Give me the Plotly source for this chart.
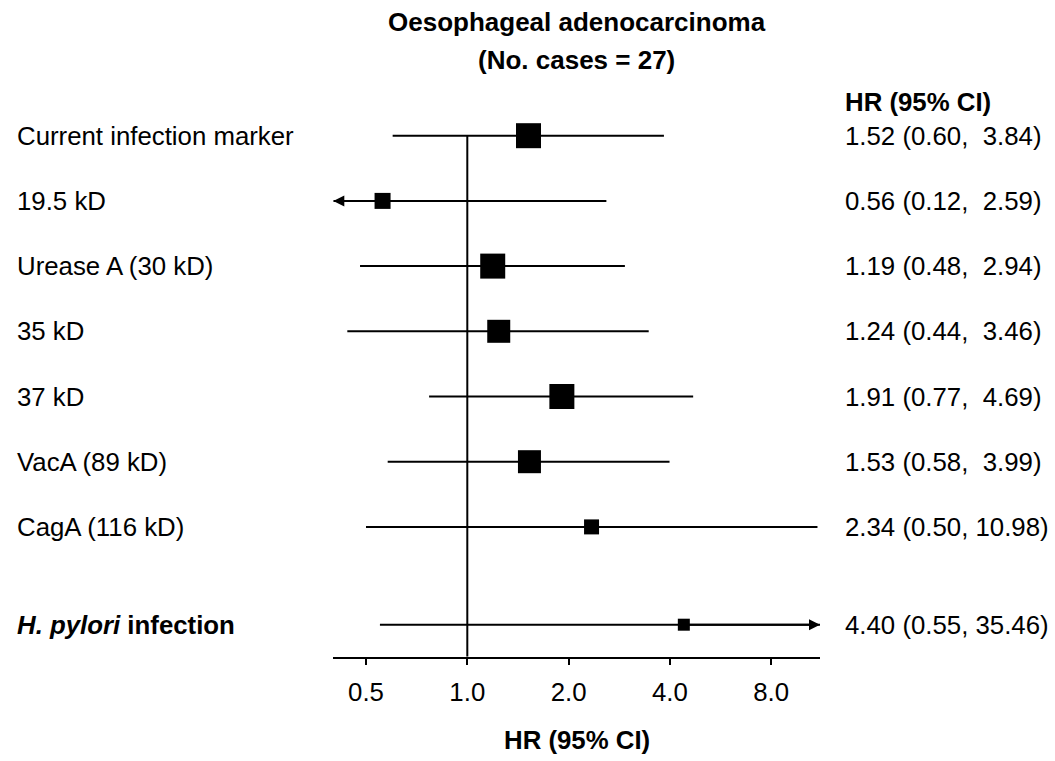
import math
import plotly.graph_objects as go

# ---- data ----
labels = ["Current infection marker", "19.5 kD", "Urease A (30 kD)", "35 kD",
          "37 kD", "VacA (89 kD)", "CagA (116 kD)", "<b><i>H. pylori</i> infection</b>"]
hr = [1.52, 0.56, 1.19, 1.24, 1.91, 1.53, 2.34, 4.40]
lo = [0.60, 0.12, 0.48, 0.44, 0.77, 0.58, 0.50, 0.55]
hi = [3.84, 2.59, 2.94, 3.46, 4.69, 3.99, 10.98, 35.46]
weights = [25, 16, 25, 23, 25, 23, 15, 12]   # box side (px), study weight
tick_vals = [0.5, 1, 2, 4, 8]
tick_text = ["0.5", "1.0", "2.0", "4.0", "8.0"]
title_lines = ["Oesophageal adenocarcinoma", "(No. cases = 27)"]
col_header = "HR (95% CI)"
axis_title = "HR (95% CI)"

# row positions: markers in consecutive rows, overall row after a gap
rows = list(range(len(labels) - 1)) + [len(labels) - 0.5]

W, H = 1055, 761
FONT = "Liberation Sans, Arial, sans-serif"
FS = 25.8

# axis layout (pixel based)
x_left_px, x_right_px = 333.3, 820.0
y_axis_px = 656.7
row0_px, row_step_px = 135.7, 65.2

log_per_px = 1.0 / 101.3  # log2 units per pixel
x_min = 2 ** ((x_left_px - 467.3) * log_per_px)
x_max = 2 ** ((x_right_px - 467.3) * log_per_px)
y_bottom = (y_axis_px - row0_px) / row_step_px
y_top = -row0_px / row_step_px

fig = go.Figure()

# CI lines
xs, ys = [], []
for l, h, r in zip(lo, hi, rows):
    xs += [max(l, x_min), min(h, x_max), None]
    ys += [r, r, None]
fig.add_trace(go.Scatter(x=xs, y=ys, mode="lines",
                         line=dict(color="black", width=2), hoverinfo="skip",
                         showlegend=False, cliponaxis=False))

# reference line at HR = 1
fig.add_trace(go.Scatter(x=[1, 1], y=[rows[0], y_bottom], mode="lines",
                         line=dict(color="black", width=2), showlegend=False,
                         hoverinfo="skip", cliponaxis=False))

# boxes
fig.add_trace(go.Scatter(x=hr, y=rows, mode="markers", opacity=1,
                         marker=dict(symbol="square", size=weights, color="#000000",
                                     opacity=1, line=dict(width=0, color="#000000")),
                         showlegend=False, cliponaxis=False))

annotations = []
# arrows for truncated CIs
for l, h, r, v in zip(lo, hi, rows, hr):
    if l < x_min:
        annotations.append(dict(x=math.log10(x_min), y=r, ax=math.log10(v), ay=r,
                                xref="x", yref="y", axref="x", ayref="y",
                                showarrow=True, arrowhead=2, arrowsize=1.1,
                                arrowwidth=2, arrowcolor="black", text="",
                                standoff=0))
    if h > x_max:
        annotations.append(dict(x=math.log10(x_max), y=r, ax=math.log10(v), ay=r,
                                xref="x", yref="y", axref="x", ayref="y",
                                showarrow=True, arrowhead=2, arrowsize=1.1,
                                arrowwidth=2, arrowcolor="black", text="",
                                standoff=0))

# left labels
for lab, r in zip(labels, rows):
    annotations.append(dict(x=15 / W, y=r, xref="paper", yref="y", text=lab,
                            showarrow=False, xanchor="left", yanchor="middle",
                            font=dict(family=FONT, size=FS, color="black")))

# right column
for v, l, h, r in zip(hr, lo, hi, rows):
    txt = f"{v:.2f} ({l:.2f}, {h:5.2f})".replace("  ", "\u00a0\u00a0")
    annotations.append(dict(x=843 / W, y=r, xref="paper", yref="y", text=txt,
                            showarrow=False, xanchor="left", yanchor="middle",
                            font=dict(family=FONT, size=FS, color="black")))
annotations.append(dict(x=843 / W, y=rows[0] - 0.52, xref="paper", yref="y",
                        text=f"<b>{col_header}</b>", showarrow=False,
                        xanchor="left", yanchor="middle",
                        font=dict(family=FONT, size=FS, color="black")))

# titles
for t, ypx in zip(title_lines, [22, 60]):
    annotations.append(dict(x=0.5, y=1 - ypx / H, xref="x domain", yref="paper",
                            text=f"<b>{t}</b>", showarrow=False,
                            xanchor="center", yanchor="middle",
                            font=dict(family=FONT, size=26, color="black")))
annotations.append(dict(x=0.5, y=1 - 740 / H, xref="x domain", yref="paper",
                        text=f"<b>{axis_title}</b>", showarrow=False,
                        xanchor="center", yanchor="middle",
                        font=dict(family=FONT, size=FS, color="black")))

fig.update_layout(
    width=W, height=H,
    margin=dict(l=0, r=0, t=0, b=0),
    paper_bgcolor="white", plot_bgcolor="white",
    annotations=annotations,
    xaxis=dict(type="log", range=[math.log10(x_min), math.log10(x_max)],
               domain=[x_left_px / W, x_right_px / W],
               tickvals=tick_vals, ticktext=tick_text,
               showgrid=False, zeroline=False,
               showline=True, linecolor="black", linewidth=2,
               ticks="outside", ticklen=6, tickwidth=2, tickcolor="black",
               ticklabelstandoff=5,
               tickfont=dict(family=FONT, size=FS, color="black")),
    yaxis=dict(range=[y_bottom, y_top], domain=[1 - y_axis_px / H, 1],
               visible=False, showgrid=False, zeroline=False),
)

fig.write_html("out.html")
